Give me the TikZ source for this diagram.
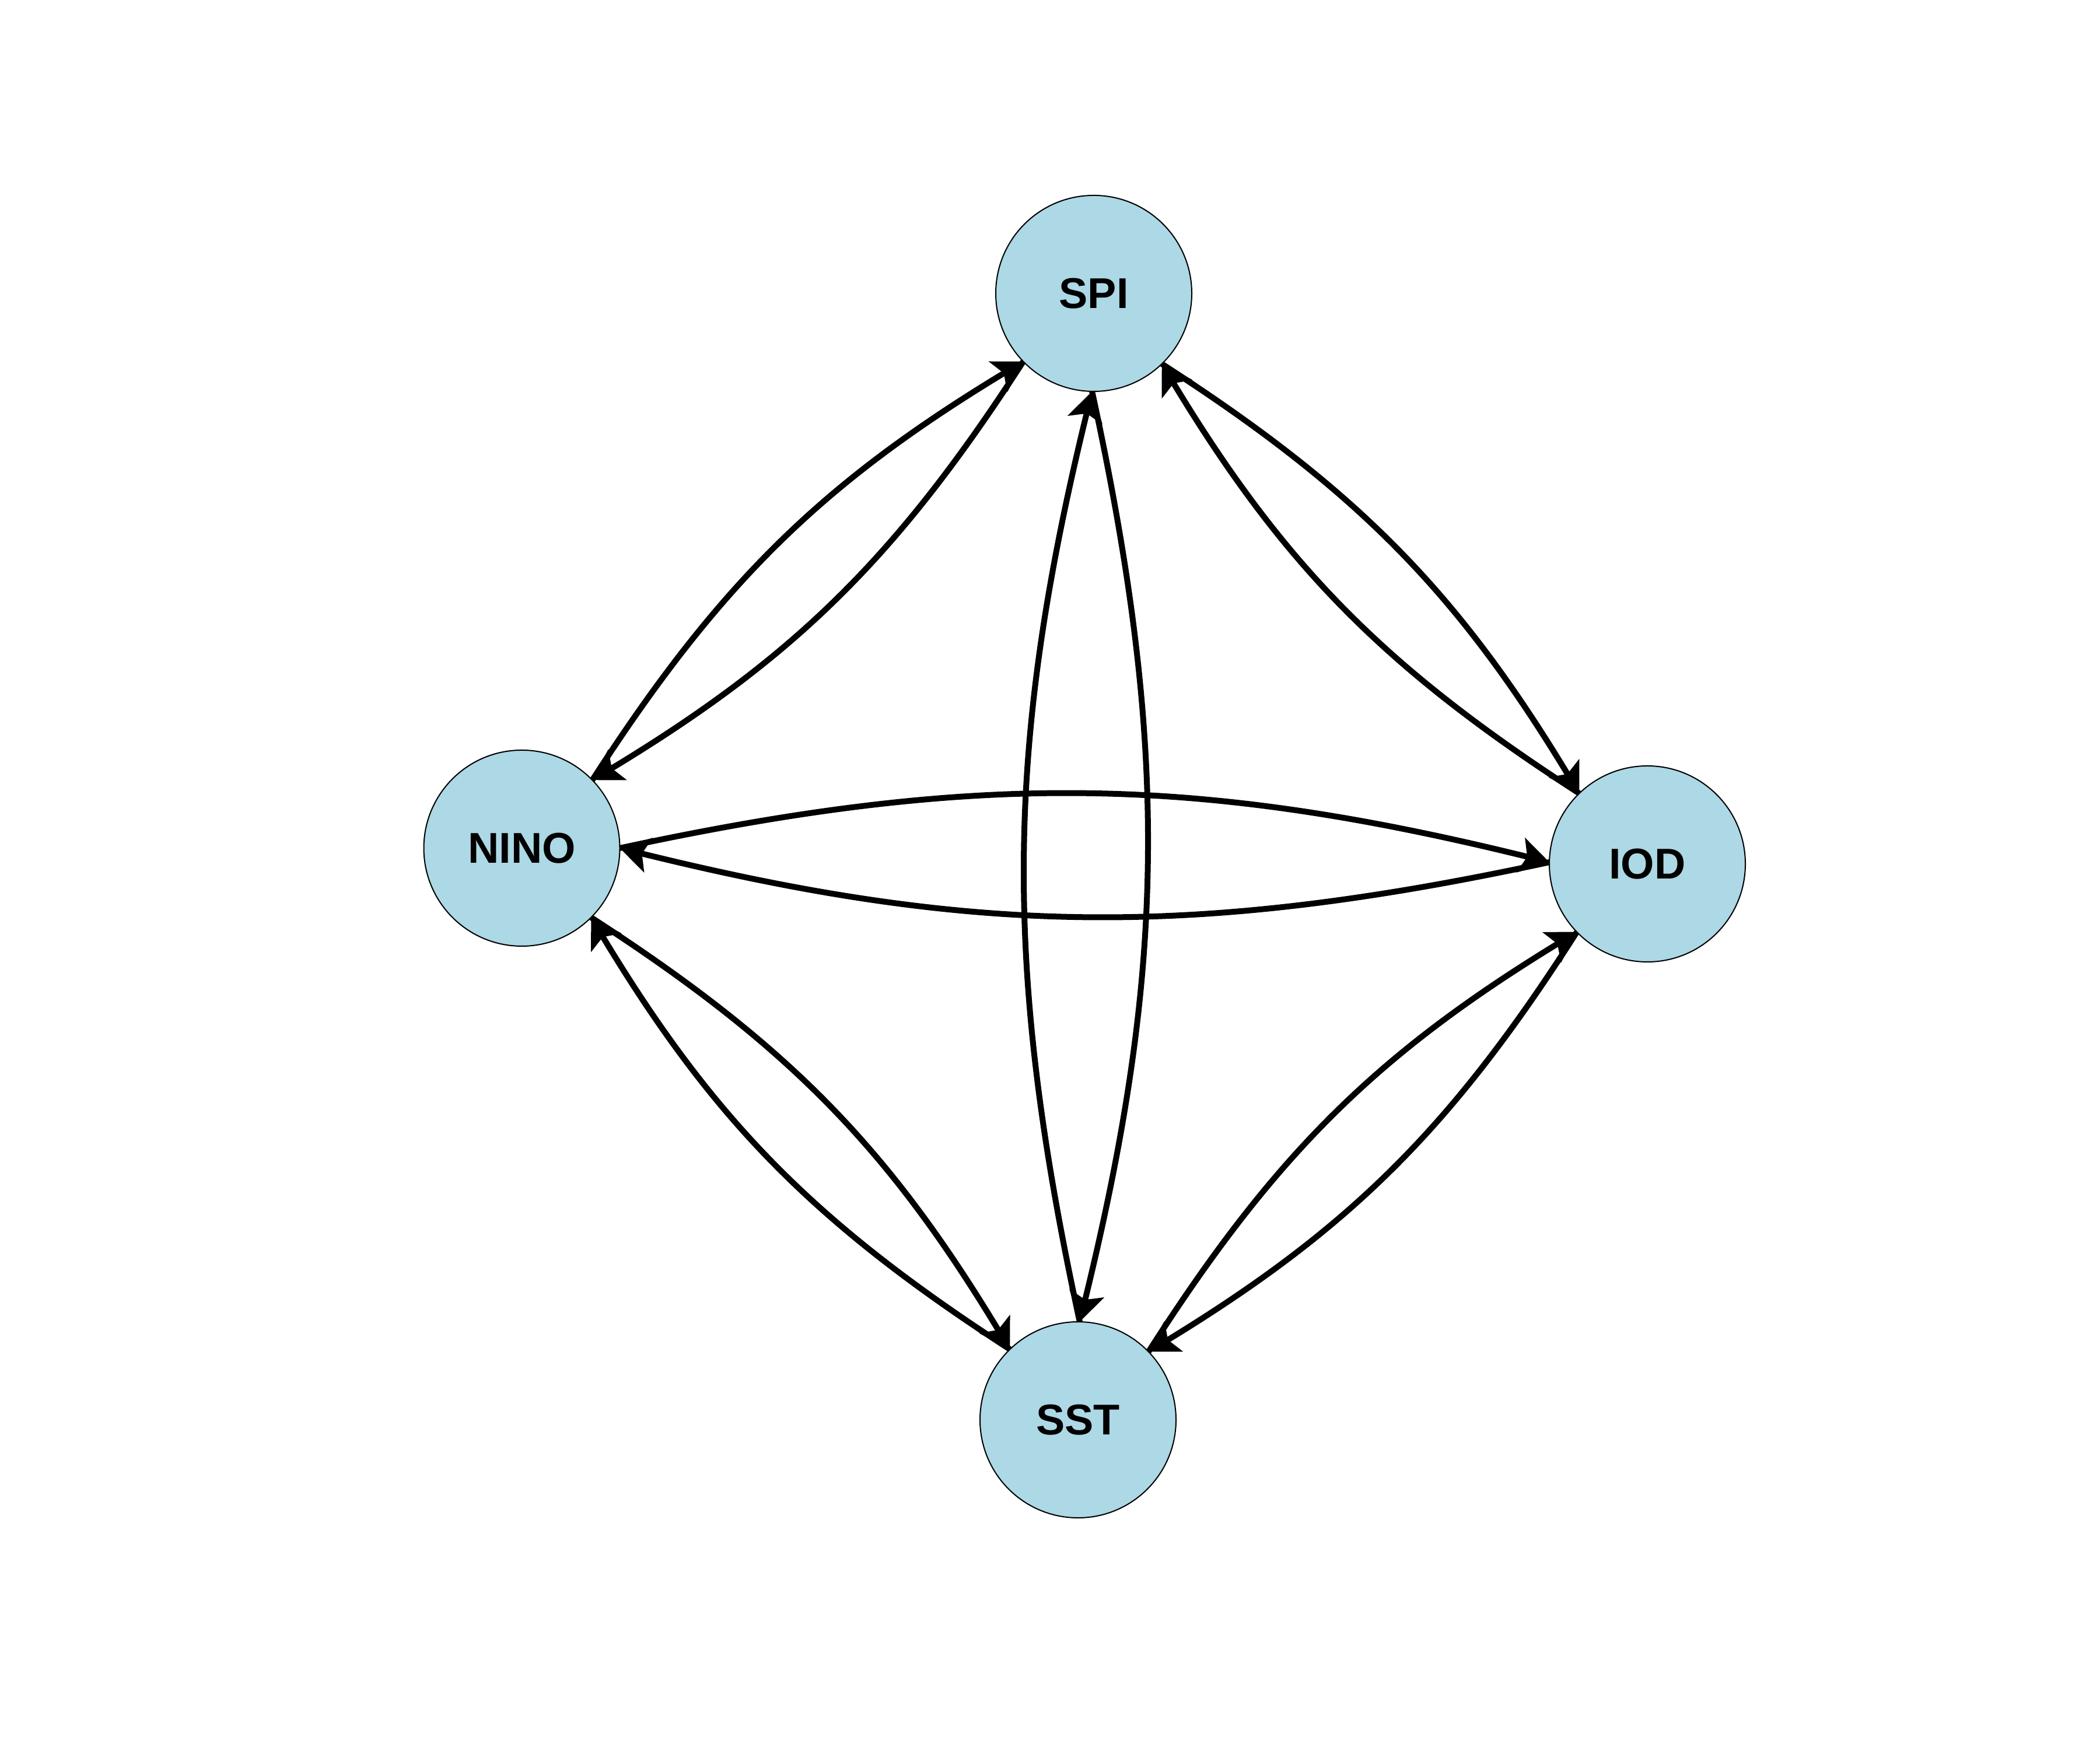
\documentclass[tikz,border=0pt]{standalone}
\usepackage{fontspec}
\setmainfont{Liberation Sans}
\usetikzlibrary{arrows.meta}
\definecolor{nodeblue}{RGB}{173,216,230}
\begin{document}
\begin{tikzpicture}[
  vert/.style={circle, draw=black, line width=0.02cm, fill=nodeblue,
    minimum size=3.36cm, inner sep=0pt, outer sep=0pt,
    font=\fontsize{21}{21}\selectfont\bfseries},
  edge/.style={line width=0.1cm, draw=black,
    -{Stealth[length=5mm, width=6mm, inset=1.1mm]}, bend left=13}
]
\useasboundingbox (0,0) rectangle (36,30);
\node[vert] (SPI)  at (18.75,24.97) {SPI};
\node[vert] (NINO) at (8.945,15.46) {NINO};
\node[vert] (IOD)  at (28.24,15.19) {IOD};
\node[vert] (SST)  at (18.48,5.66) {SST};

\draw[edge] (SPI.224.1) to (NINO.44.1);
\draw[edge] (NINO.44.1) to (SPI.224.1);
\draw[edge] (SPI.314.1) to (IOD.134.1);
\draw[edge] (IOD.134.1) to (SPI.314.1);
\draw[edge] (SPI.269.2) to (SST.89.2);
\draw[edge] (SST.89.2) to (SPI.269.2);
\draw[edge] (NINO.-0.8) to (IOD.179.2);
\draw[edge] (IOD.179.2) to (NINO.-0.8);
\draw[edge] (NINO.-45.8) to (SST.134.2);
\draw[edge] (SST.134.2) to (NINO.-45.8);
\draw[edge] (IOD.224.3) to (SST.44.3);
\draw[edge] (SST.44.3) to (IOD.224.3);
\end{tikzpicture}
\end{document}
